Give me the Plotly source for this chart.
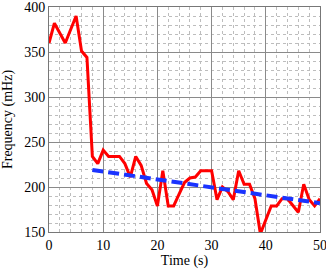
import plotly.graph_objects as go

time_s = [0, 1, 3, 5, 6, 7, 8, 9, 10, 11, 12, 13, 14, 15, 16, 17, 18, 19, 20, 21, 22, 23, 24, 25, 26, 27, 28, 29, 30, 31, 32, 33, 34, 35, 36, 37, 38, 39, 40, 41, 42, 43, 44, 45, 46, 47, 48, 49, 50]
freq_mhz = [360, 382, 360, 390, 351, 344, 234, 226, 241, 234, 234, 234, 226, 211, 234, 224, 204, 197, 179, 218, 179, 179, 192, 205, 210, 211, 218, 218, 218, 186, 200, 195, 186, 218, 203, 203, 187, 148, 163, 179, 179, 187, 187, 180, 172, 203, 186, 179, 187]
trend_t = [8, 50]
trend_f = [219, 182]

fig = go.Figure()
fig.add_trace(go.Scatter(x=time_s, y=freq_mhz, mode="lines",
                         line=dict(color="#ff0000", width=3), showlegend=False))
fig.add_trace(go.Scatter(x=trend_t, y=trend_f, mode="lines",
                         line=dict(color="#1a33ff", width=4, dash="11px,5px"), showlegend=False))

font_family = "Times New Roman, Times, serif"
fig.update_layout(
    width=326, height=270,
    margin=dict(l=49, r=6, t=7, b=38, autoexpand=False),
    paper_bgcolor="white", plot_bgcolor="white",
    font=dict(family=font_family, size=14, color="black"),
)
fig.update_xaxes(
    range=[0, 50], dtick=10, showgrid=True, gridcolor="#8a8a8a", gridwidth=1,
    showline=True, mirror=True, linecolor="#777777", linewidth=1,
    zeroline=False, ticks="", ticklabeloverflow="allow", automargin=False,
    minor=dict(dtick=2, showgrid=True, gridcolor="#bdbdbd", griddash="dot", gridwidth=1),
    title=dict(text="Time (s)", standoff=0, font=dict(size=14, family=font_family)),
    tickfont=dict(size=14, family=font_family),
)
fig.update_yaxes(
    range=[150, 400], dtick=50, showgrid=True, gridcolor="#8a8a8a", gridwidth=1,
    showline=True, mirror=True, linecolor="#777777", linewidth=1,
    zeroline=False, ticks="", ticklabeloverflow="allow", automargin=False,
    minor=dict(dtick=10, showgrid=True, gridcolor="#bdbdbd", griddash="dot", gridwidth=1),
    title=dict(text="Frequency (mHz)", standoff=10, font=dict(size=14, family=font_family)),
    tickfont=dict(size=14, family=font_family),
)
fig.write_html("out.html", config={"displayModeBar": False},
               post_script="document.body.style.margin='0';")
